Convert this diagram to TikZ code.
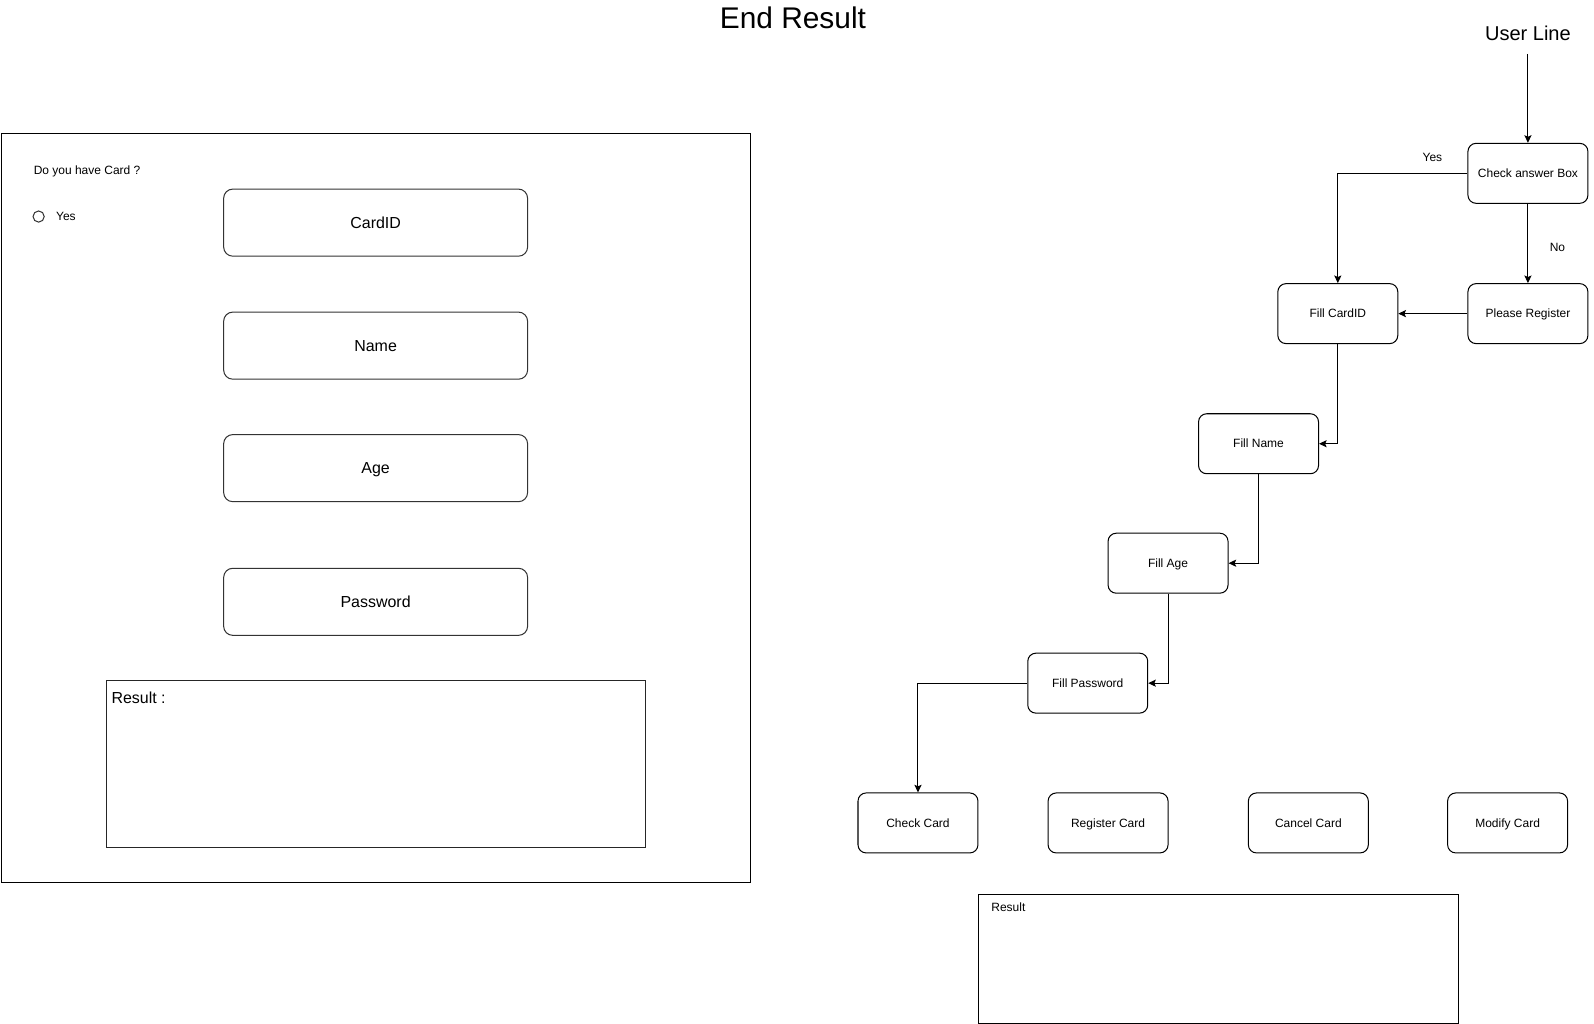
\documentclass[tikz,border=0pt]{standalone}
\usepackage{fontspec}
\setmainfont{Liberation Sans}
\usetikzlibrary{arrows.meta}
\tikzset{
  flowbox/.style={draw, line width=1pt, rounded corners=8pt, minimum width=118pt, minimum height=59pt, inner sep=0pt, text height=10.6pt, text depth=2.4pt, font=\fontsize{11.8}{14}\selectfont},
  fieldbox/.style={draw=black!80, line width=1pt, rounded corners=9pt, minimum width=299pt, minimum height=66pt, inner sep=0pt, text height=13.8pt, text depth=2.6pt, font=\fontsize{15.7}{19}\selectfont},
  plainbox/.style={draw, line width=1pt, inner sep=0pt, anchor=north west},
  small/.style={inner sep=0pt, font=\fontsize{11.8}{14}\selectfont},
  arr/.style={draw, line width=1pt, -{Stealth[length=7.5pt, width=7pt, inset=1.5pt]}}
}
\begin{document}
\begin{tikzpicture}[x=1pt,y=-1pt]
\useasboundingbox (0,0) rectangle (1568,1007);
% title
\node[inner sep=0pt, font=\fontsize{29.4}{34}\selectfont] (title) at (780,18) {End Result};
% left form
\node[plainbox, minimum width=737.5pt, minimum height=737pt] (form) at (0.5,131) {};
\node[small, anchor=west] (q) at (33,168.5) {Do you have Card ?};
\node[draw=black!80, line width=1pt, circle, minimum size=11pt, inner sep=0pt] (radio) at (38,213) {};
\node[small, anchor=west] (yesr) at (55,213) {Yes};
\node[fieldbox] (cardid) at (369.5,219) {CardID};
\node[fieldbox] (name) at (369.5,340) {Name};
\node[fieldbox] (age) at (369.5,460.5) {Age};
\node[fieldbox] (pwd) at (369.5,592) {Password};
\node[plainbox, draw=black!85, minimum width=530pt, minimum height=164pt] (res1) at (104,669) {};
\node[inner sep=0pt, anchor=west, font=\fontsize{15.7}{19}\selectfont] (res1t) at (109.5,686) {Result :};
% right flow
\node[inner sep=0pt, font=\fontsize{19.7}{24}\selectfont] (ul) at (1503,33) {User Line};
\coordinate (ulb) at (1503,53);
\node[flowbox] (cab) at (1503,170.5) {Check answer Box};
\node[flowbox] (pr) at (1503,308.5) {Please Register};
\node[flowbox] (fc) at (1316,308.5) {Fill CardID};
\node[flowbox] (fn) at (1238,436.5) {Fill Name};
\node[flowbox] (fa) at (1149,554) {Fill Age};
\node[flowbox] (fp) at (1070,672) {Fill Password};
\node[flowbox] (cc) at (903,809.5) {Check Card};
\node[flowbox] (rc) at (1090,809.5) {Register Card};
\node[flowbox] (cnc) at (1287,809.5) {Cancel Card};
\node[flowbox] (mc) at (1483,809.5) {Modify Card};
\node[plainbox, minimum width=472pt, minimum height=127pt] (res2) at (962,879) {};
\node[small, anchor=west] (res2t) at (975,892.5) {Result};
% connectors
\draw[arr] (ulb) -- (cab.north);
\draw[arr] (cab.west) -| (fc.north);
\node[small] (yesl) at (1409,155) {Yes};
\draw[arr] (cab.south) -- (pr.north);
\node[small] (nol) at (1532,243.5) {No};
\draw[arr] (pr.west) -- (fc.east);
\draw[arr] (fc.south) |- (fn.east);
\draw[arr] (fn.south) |- (fa.east);
\draw[arr] (fa.south) |- (fp.east);
\draw[arr] (fp.west) -| (cc.north);
\end{tikzpicture}
\end{document}
